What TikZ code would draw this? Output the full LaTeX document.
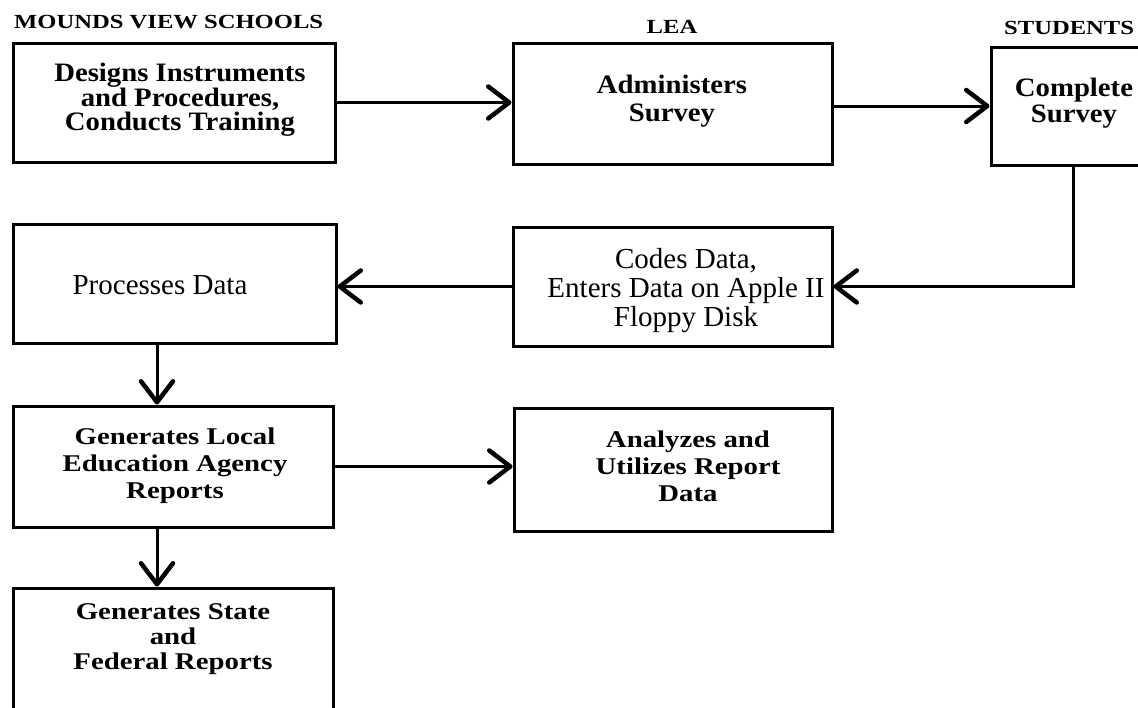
\documentclass[tikz,border=0pt]{standalone}
\usepackage{fontspec}
\setmainfont{Liberation Serif}
\newfontfamily\topfam[FakeStretch=1.08]{Liberation Serif}
\newfontfamily\ttlfam[FakeStretch=1.23]{Liberation Serif}
\newfontfamily\lowfam[FakeStretch=1.2]{Liberation Serif}
\usetikzlibrary{arrows.meta}
\begin{document}
\begin{tikzpicture}[x=1pt,y=-1pt,
  box/.style={draw, line width=3pt, rectangle, inner sep=0pt},
  arr/.style={line width=3pt, -{Straight Barb[length=21pt,width=32pt,line width=4.5pt,round]}},
  ttl/.style={inner sep=0pt, font=\ttlfam\bfseries\fontsize{20}{22}\selectfont},
  toptxt/.style={align=center, inner sep=0pt, font=\topfam\bfseries\fontsize{26.6}{24.5}\selectfont},
  midtxt/.style={align=center, inner sep=0pt, font=\fontsize{29}{29}\selectfont},
  lowtxt/.style={align=center, inner sep=0pt, font=\lowfam\bfseries\fontsize{24}{27}\selectfont},
]
\useasboundingbox (0,0) rectangle (1138,707);
\fill[white] (0,0) rectangle (1138,707);
\clip (0,0) rectangle (1138,707);

% column titles
\node[ttl, anchor=base west] (t1) at (14,28) {MOUNDS VIEW SCHOOLS};
\node[ttl, anchor=base] (t2) at (672,33) {LEA};
\node[ttl, anchor=base west] (t3) at (1004,34) {STUDENTS};

% boxes
\node[box, minimum width=322pt, minimum height=119pt] (b1) at (174,102.5) {};
\node[box, minimum width=319pt, minimum height=121pt] (b2) at (672.5,103.5) {};
\node[box, minimum width=169pt, minimum height=118pt] (b3) at (1075.5,106) {};
\node[box, minimum width=323pt, minimum height=119pt] (b4) at (174.5,283.5) {};
\node[box, minimum width=319pt, minimum height=119pt] (b5) at (672.5,286.5) {};
\node[box, minimum width=320pt, minimum height=121pt] (b6) at (173,466.5) {};
\node[box, minimum width=318pt, minimum height=123pt] (b7) at (673,469.5) {};
\node[box, minimum width=320pt, minimum height=182pt] (b8) at (173,679) {};

% texts
\node[toptxt] (x1) at (180,100) {Designs Instruments\\and Procedures,\\Conducts Training};
\node[toptxt, font=\topfam\bfseries\fontsize{26.6}{28}\selectfont] (x2) at (672,101) {Administers\\Survey};
\node[toptxt, font=\topfam\bfseries\fontsize{26.6}{26}\selectfont] (x3) at (1074,103) {Complete\\Survey};
\node[midtxt] (x4) at (160,285) {Processes Data};
\node[midtxt] (x5) at (686,291) {Codes Data,\\Enters Data on Apple II\\Floppy Disk};
\node[lowtxt] (x6) at (175,466) {Generates Local\\Education Agency\\Reports};
\node[lowtxt] (x7) at (688,466) {Analyzes and\\Utilizes Report\\Data};
\node[lowtxt, font=\lowfam\bfseries\fontsize{24}{25}\selectfont] (x8) at (173,639) {Generates State\\and\\Federal Reports};

% connectors
\draw[arr] (b1.east) -- (b1.east -| b2.west);
\draw[arr] (b3.west -| b2.east) -- (b3.west);
\draw[arr] ([xshift=-2.5pt]b3.south) |- (b5.east);
\draw[arr] (b5.west) -- (b5.west -| b4.east);
\draw[arr] ([xshift=-17.5pt]b4.south) -- ([xshift=-17.5pt]b4.south |- b6.north);
\draw[arr] (b6.east) -- (b6.east -| b7.west);
\draw[arr] ([xshift=-16pt]b6.south) -- ([xshift=-16pt]b6.south |- b8.north);
\end{tikzpicture}
\end{document}
